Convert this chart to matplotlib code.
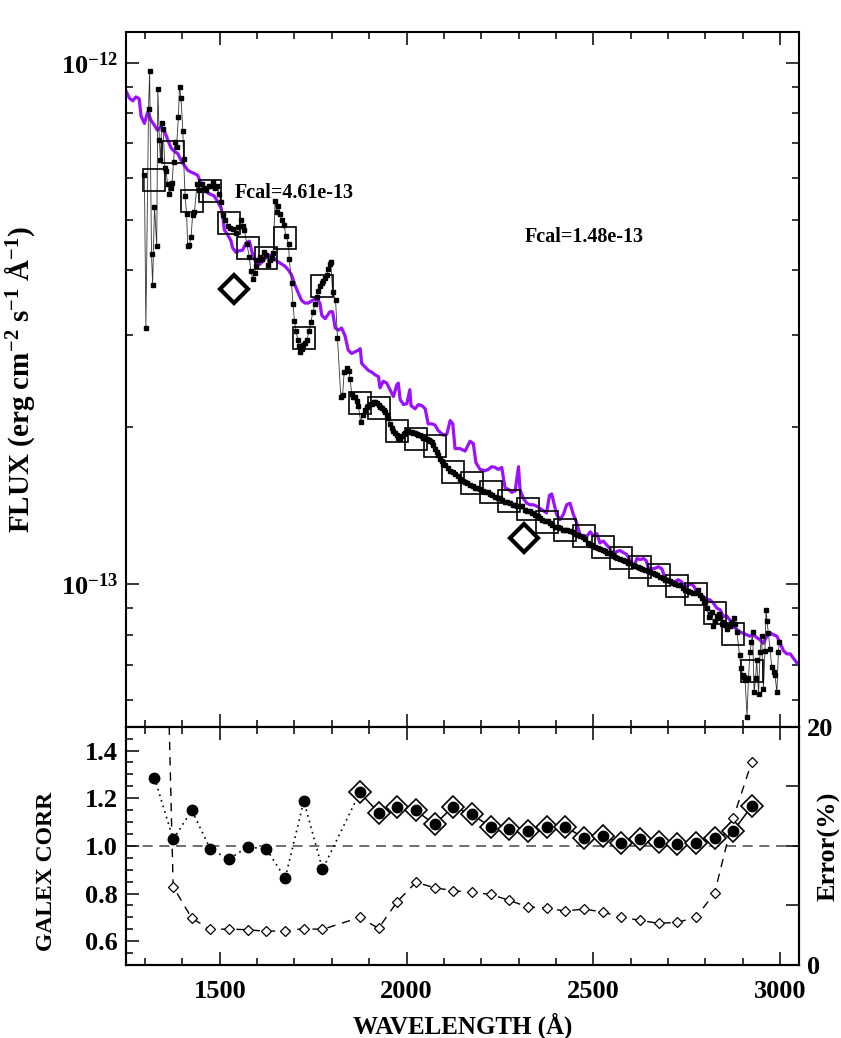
import numpy as np
import matplotlib
matplotlib.use('Agg')
import matplotlib.pyplot as plt
from matplotlib.ticker import MultipleLocator, LogLocator, NullFormatter, FuncFormatter, FixedLocator, FixedFormatter

plt.rcParams['font.family'] = ['Liberation Serif', 'DejaVu Serif']
plt.rcParams['font.weight'] = 'bold'
plt.rcParams['mathtext.fontset'] = 'custom'
plt.rcParams['mathtext.rm'] = 'Liberation Serif:bold'
plt.rcParams['mathtext.bf'] = 'Liberation Serif:bold'
plt.rcParams['mathtext.it'] = 'Liberation Serif:bold:italic'

# observed spectrum (flux in 1e-13 erg/cm2/s/A)
spec_wave = [1298, 1302, 1309, 1312, 1317, 1320, 1325, 1331, 1334, 1338, 1341, 1344, 1348, 1353, 1356,
             1360, 1365, 1368, 1372, 1376, 1380, 1384, 1389, 1392, 1396, 1401, 1403, 1407, 1411, 1414,
             1418, 1423, 1427, 1432, 1439, 1443, 1452, 1458, 1463, 1470, 1476, 1482, 1488, 1493, 1498,
             1503, 1509, 1515, 1522, 1528, 1534, 1543, 1550, 1557, 1561, 1566, 1572, 1579, 1583, 1589,
             1593, 1597, 1603, 1608, 1614, 1619, 1625, 1630, 1635, 1639, 1643, 1648, 1652, 1657, 1661,
             1666, 1672, 1677, 1684, 1686, 1692, 1696, 1700, 1704, 1709, 1712, 1716, 1720, 1724, 1729,
             1733, 1739, 1744, 1749, 1755, 1760, 1764, 1768, 1773, 1777, 1782, 1786, 1791, 1795, 1797,
             1802, 1810, 1815, 1824, 1829, 1833, 1840, 1846, 1849, 1853, 1858, 1862, 1867, 1871, 1877,
             1883, 1889, 1894, 1898, 1903, 1907, 1912, 1916, 1920, 1925, 1930, 1934, 1939, 1943, 1947,
             1951, 1956, 1960, 1965, 1969, 1974, 1978, 1983, 1987, 1992, 1996, 2001, 2005, 2010, 2014,
             2018, 2023, 2028, 2032, 2036, 2041, 2045, 2050, 2054, 2059, 2063, 2068, 2072, 2077, 2081,
             2085, 2090, 2095, 2099, 2103, 2110, 2117, 2124, 2130, 2137, 2143, 2150, 2157, 2163, 2170,
             2177, 2184, 2190, 2197, 2204, 2210, 2217, 2224, 2230, 2237, 2244, 2251, 2257, 2264, 2270,
             2277, 2284, 2291, 2297, 2304, 2310, 2317, 2324, 2331, 2337, 2344, 2351, 2358, 2364, 2371,
             2378, 2385, 2391, 2398, 2405, 2411, 2418, 2425, 2431, 2438, 2445, 2452, 2458, 2465, 2472,
             2478, 2485, 2492, 2498, 2505, 2512, 2518, 2525, 2532, 2538, 2545, 2552, 2559, 2565, 2572,
             2579, 2585, 2592, 2599, 2606, 2612, 2619, 2626, 2632, 2639, 2646, 2652, 2659, 2666, 2672,
             2679, 2686, 2692, 2699, 2706, 2713, 2719, 2726, 2733, 2740, 2746, 2753, 2760, 2767, 2775,
             2782, 2786, 2791, 2796, 2800, 2805, 2809, 2814, 2818, 2822, 2827, 2831, 2836, 2840, 2845,
             2849, 2854, 2858, 2862, 2867, 2871, 2876, 2880, 2885, 2892, 2896, 2900, 2904, 2907, 2912,
             2916, 2920, 2924, 2927, 2931, 2935, 2938, 2943, 2947, 2951, 2956, 2960, 2963, 2966, 2969,
             2974, 2978, 2983, 2987, 2992, 2996, 2999]
spec_flux = [6.08, 3.10, 8.15, 9.63, 4.30, 3.75, 5.30, 4.45, 8.90, 7.10, 6.50, 7.65, 7.45, 6.28, 6.20,
             5.85, 5.60, 5.75, 5.88, 6.45, 7.05, 6.90, 7.86, 9.00, 8.55, 7.40, 6.53, 5.55, 5.12, 4.45,
             4.47, 4.63, 5.10, 5.18, 5.85, 5.70, 5.85, 5.75, 5.70, 5.80, 5.80, 5.90, 5.75, 5.80, 5.60,
             5.40, 5.10, 5.00, 4.87, 4.82, 4.79, 4.72, 4.85, 5.00, 4.87, 4.77, 4.50, 4.25, 3.99, 3.84,
             3.95, 4.07, 4.19, 4.25, 4.20, 4.33, 4.27, 4.10, 4.18, 4.22, 4.32, 5.43, 5.18, 5.31, 5.13,
             4.99, 4.88, 4.66, 4.50, 4.20, 3.78, 3.45, 3.19, 3.06, 2.94, 2.86, 2.79, 2.82, 2.87, 2.90,
             2.94, 3.06, 3.18, 3.32, 3.45, 3.56, 3.65, 3.73, 3.78, 3.81, 3.87, 3.92, 4.02, 4.12, 4.15,
             3.64, 3.51, 2.97, 2.29, 2.31, 2.55, 2.60, 2.56, 2.48, 2.32, 2.29, 2.29, 2.25, 2.20, 2.05,
             2.11, 2.16, 2.19, 2.20, 2.22, 2.22, 2.24, 2.24, 2.23, 2.21, 2.19, 2.18, 2.16, 2.14, 2.11,
             2.08, 2.03, 1.99, 1.97, 1.95, 1.93, 1.91, 1.90, 1.92, 1.94, 1.95, 1.96, 1.97, 1.96, 1.96,
             1.95, 1.95, 1.94, 1.93, 1.93, 1.92, 1.91, 1.91, 1.90, 1.89, 1.88, 1.87, 1.85, 1.82, 1.79,
             1.77, 1.74, 1.72, 1.70, 1.69, 1.67, 1.65, 1.64, 1.63, 1.61, 1.59, 1.58, 1.57, 1.56, 1.55,
             1.54, 1.53, 1.53, 1.52, 1.51, 1.50, 1.50, 1.49, 1.48, 1.47, 1.46, 1.46, 1.45, 1.44, 1.44,
             1.43, 1.42, 1.42, 1.41, 1.41, 1.41, 1.39, 1.38, 1.38, 1.37, 1.36, 1.35, 1.34, 1.33, 1.32,
             1.32, 1.31, 1.30, 1.29, 1.29, 1.28, 1.27, 1.27, 1.27, 1.265, 1.26, 1.25, 1.24, 1.235, 1.23,
             1.22, 1.20, 1.19, 1.19, 1.18, 1.175, 1.17, 1.165, 1.16, 1.15, 1.147, 1.14, 1.13, 1.125, 1.12,
             1.115, 1.11, 1.10, 1.097, 1.09, 1.085, 1.08, 1.073, 1.07, 1.063, 1.06, 1.057, 1.05, 1.045, 1.04,
             1.034, 1.03, 1.02, 1.017, 1.012, 1.005, 1.00, 0.998, 0.997, 0.985, 0.975, 0.97, 0.968, 0.96, 0.962,
             0.975, 0.955, 0.94, 0.93, 0.926, 0.90, 0.867, 0.875, 0.886, 0.83, 0.85, 0.87, 0.875, 0.86, 0.84,
             0.845, 0.835, 0.82, 0.83, 0.83, 0.845, 0.86, 0.84, 0.81, 0.73, 0.69, 0.67, 0.665, 0.655, 0.557,
             0.66, 0.74, 0.775, 0.81, 0.62, 0.66, 0.716, 0.615, 0.74, 0.795, 0.63, 0.745, 0.893, 0.85, 0.806,
             0.75, 0.695, 0.68, 0.67, 0.62, 0.74, 0.774]

# model spectrum (purple)
model_wave = [1250, 1258, 1267, 1275, 1284, 1289, 1298, 1307, 1316, 1324, 1333, 1342, 1351, 1360, 1369,
              1378, 1387, 1396, 1405, 1414, 1423, 1432, 1441, 1450, 1458, 1467, 1476, 1485, 1494, 1503,
              1508, 1512, 1521, 1530, 1534, 1543, 1552, 1561, 1570, 1579, 1588, 1597, 1606, 1615, 1626,
              1639, 1648, 1661, 1675, 1684, 1692, 1701, 1710, 1719, 1728, 1737, 1750, 1760, 1768, 1773,
              1782, 1795, 1802, 1809, 1818, 1826, 1835, 1844, 1853, 1862, 1871, 1876, 1880, 1889, 1898,
              1907, 1916, 1925, 1929, 1938, 1947, 1956, 1965, 1974, 1978, 1983, 1992, 2001, 2009, 2012,
              2023, 2032, 2041, 2050, 2058, 2068, 2076, 2085, 2099, 2108, 2117, 2124, 2130, 2143, 2157,
              2170, 2179, 2186, 2197, 2210, 2219, 2228, 2237, 2246, 2255, 2264, 2273, 2282, 2291, 2300,
              2304, 2313, 2322, 2331, 2340, 2350, 2362, 2375, 2383, 2389, 2396, 2402, 2411, 2420, 2429,
              2438, 2447, 2456, 2465, 2474, 2483, 2492, 2500, 2510, 2518, 2527, 2536, 2545, 2554, 2563,
              2572, 2581, 2590, 2599, 2608, 2617, 2626, 2635, 2642, 2648, 2657, 2666, 2675, 2684, 2693,
              2702, 2711, 2720, 2728, 2737, 2746, 2755, 2764, 2770, 2777, 2786, 2795, 2804, 2813, 2822,
              2831, 2840, 2849, 2857, 2866, 2875, 2884, 2893, 2902, 2911, 2920, 2929, 2938, 2947, 2956,
              2965, 2974, 2983, 2992, 3001, 3010, 3019, 3028, 3037, 3046, 3055]
model_flux = [8.79, 8.55, 8.45, 8.60, 8.53, 7.90, 7.65, 8.05, 7.75, 7.60, 7.42, 7.53, 7.42, 7.13, 6.87,
              6.76, 6.70, 6.50, 6.36, 6.22, 6.17, 6.13, 6.08, 5.85, 5.76, 5.63, 5.59, 5.55, 5.42, 5.27,
              5.07, 4.78, 4.68, 4.55, 4.42, 4.33, 4.36, 4.37, 4.51, 4.55, 4.28, 4.13, 4.10, 4.16, 4.25,
              4.28, 4.19, 4.13, 4.07, 4.00, 3.92, 3.75, 3.62, 3.50, 3.46, 3.46, 3.51, 3.53, 3.46, 3.28,
              3.23, 3.33, 3.33, 3.10, 3.07, 3.10, 3.00, 2.81, 2.77, 2.79, 2.81, 2.83, 2.65, 2.61, 2.57,
              2.55, 2.52, 2.50, 2.38, 2.45, 2.43, 2.36, 2.29, 2.41, 2.43, 2.26, 2.21, 2.22, 2.36, 2.20,
              2.17, 2.21, 2.20, 2.17, 2.03, 2.03, 2.02, 1.97, 1.93, 1.94, 2.06, 2.03, 1.82, 1.82, 1.80,
              1.88, 1.86, 1.71, 1.66, 1.65, 1.66, 1.68, 1.675, 1.66, 1.675, 1.53, 1.52, 1.50, 1.51, 1.68,
              1.52, 1.46, 1.43, 1.42, 1.42, 1.41, 1.39, 1.37, 1.48, 1.49, 1.42, 1.36, 1.33, 1.36, 1.42,
              1.43, 1.36, 1.31, 1.24, 1.24, 1.235, 1.26, 1.24, 1.25, 1.20, 1.21, 1.19, 1.17, 1.13, 1.155,
              1.16, 1.15, 1.14, 1.11, 1.073, 1.12, 1.115, 1.12, 1.11, 1.073, 1.07, 1.073, 1.08, 1.07, 1.027,
              1.02, 1.012, 1.012, 1.02, 1.01, 0.99, 0.997, 1.00, 0.99, 0.968, 0.955, 0.947, 0.935, 0.933, 0.92,
              0.90, 0.893, 0.867, 0.87, 0.854, 0.83, 0.82, 0.81, 0.805, 0.80, 0.795, 0.80, 0.79, 0.782, 0.77,
              0.795, 0.806, 0.80, 0.795, 0.77, 0.745, 0.735, 0.735, 0.72, 0.706, 0.70]

# 50 A bins
bin_wave = [1325, 1375, 1425, 1475, 1525, 1575, 1625, 1675, 1725, 1775, 1875, 1925, 1975, 2025, 2075, 2125,
            2175, 2225, 2275, 2325, 2375, 2425, 2475, 2525, 2575, 2625, 2675, 2725, 2775, 2825, 2875, 2925]
bin_flux = [5.96, 6.75, 5.43, 5.67, 4.93, 4.41, 4.22, 4.62, 2.97, 3.73, 2.23, 2.175, 1.97, 1.90, 1.84, 1.64,
            1.56, 1.505, 1.447, 1.394, 1.318, 1.273, 1.236, 1.177, 1.123, 1.078, 1.041, 0.991, 0.959, 0.882, 0.802, 0.681]
corr = [1.286, 1.028, 1.149, 0.985, 0.945, 0.996, 0.986, 0.864, 1.188, 0.901, 1.224, 1.140, 1.163, 1.149, 1.090, 1.164,
        1.132, 1.080, 1.069, 1.063, 1.080, 1.080, 1.034, 1.042, 1.013, 1.029, 1.016, 1.008, 1.010, 1.032, 1.062, 1.167]
err = [70.0, 6.57, 3.92, 2.99, 3.02, 2.96, 2.83, 2.88, 3.05, 2.99, 4.00, 3.08, 5.31, 6.94, 6.49, 6.24,
       6.10, 5.93, 5.43, 4.87, 4.78, 4.53, 4.70, 4.45, 4.03, 3.75, 3.50, 3.58, 4.00, 6.02, 12.31, 17.06]

# GALEX photometry
galex_wave = [1539, 2316]
galex_flux = [3.69, 1.227]
fcal_text = ['Fcal=4.61e-13', 'Fcal=1.48e-13']
fcal_y = [5.62, 4.63]

E13 = 1e-13
fig = plt.figure(figsize=(8.41, 10.38), dpi=100)
ax1 = fig.add_axes([0.1504, 0.2999, 0.7991, 0.6696])
ax2 = fig.add_axes([0.1504, 0.0703, 0.7991, 0.2296])

ax1.plot(model_wave, np.array(model_flux) * E13, color='#9a10ff', lw=2.3, zorder=2)
ax1.plot(spec_wave, np.array(spec_flux) * E13, '-', color='#333333', lw=0.6, zorder=3)
ax1.plot(spec_wave, np.array(spec_flux) * E13, 's', color='k', ms=3.3, zorder=4)
ax1.plot(bin_wave, np.array(bin_flux) * E13, 's', ms=16.5, mfc='none', mec='k', mew=1.2, zorder=5)
ax1.plot(galex_wave, np.array(galex_flux) * E13, 'D', ms=14, mfc='none', mec='k', mew=3, zorder=5)
for x, y, t in zip(galex_wave, fcal_y, fcal_text):
    ax1.text(x, y * E13, t, fontsize=14.5, fontweight='bold', ha='left', va='center')

ax1.set_yscale('log')
ax1.set_xlim(1250, 3050)
ax1.set_ylim(5.33e-14, 1.147e-12)
ax1.xaxis.set_major_locator(MultipleLocator(500))
ax1.xaxis.set_minor_locator(MultipleLocator(100))
ax1.yaxis.set_major_locator(FixedLocator([1e-13, 1e-12]))
ax1.yaxis.set_minor_locator(LogLocator(base=10, subs=range(2, 10)))
ax1.yaxis.set_minor_formatter(NullFormatter())
ax1.yaxis.set_major_formatter(FuncFormatter(lambda v, p: r'$\mathbf{10^{%d}}$' % round(np.log10(v))))
ax1.tick_params(which='both', direction='in', top=True, right=True, labelbottom=False, width=1.1)
ax1.tick_params(which='major', length=9.5, labelsize=19, pad=6)
ax1.tick_params(which='minor', length=5)
ax1.set_ylabel('FLUX (erg cm$^{-2}$ s$^{-1}$ Å$^{-1}$)', fontsize=21, fontweight='bold')
ax1.yaxis.set_label_coords(-0.133, 0.5)

# bottom panel
ax2.axhline(1.0, ls='--', color='#555555', lw=1.2, dashes=(6, 4), zorder=1)
ax2.plot(bin_wave[:11], corr[:11], color='k', lw=1.2, ls=(0, (1, 2.5)), zorder=2)
ax2.plot(bin_wave[10:], corr[10:], color='k', lw=1.1, zorder=2)
ax2.plot(bin_wave[10:], corr[10:], 'D', ms=11, mfc='white', mec='k', mew=1.2, zorder=3)
ax2.plot(bin_wave, corr, 'o', color='k', ms=7.5, zorder=4)
ax2.set_xlim(1250, 3050)
ax2.set_ylim(0.5, 1.5)
ax2.xaxis.set_major_locator(FixedLocator([1500, 2000, 2500, 3000]))
ax2.xaxis.set_minor_locator(MultipleLocator(100))
ax2.yaxis.set_major_locator(FixedLocator([0.6, 0.8, 1.0, 1.2, 1.4]))
ax2.yaxis.set_minor_locator(MultipleLocator(0.05))
ax2.yaxis.set_major_formatter(FuncFormatter(lambda v, p: '%.1f' % v))
ax2.tick_params(which='both', direction='in', top=True, right=False, width=1.1)
ax2.tick_params(which='major', length=9.5, labelsize=19)
ax2.tick_params(axis='x', which='major', pad=11)
ax2.tick_params(axis='y', which='major', pad=6)
ax2.tick_params(which='minor', length=5)
ax2.set_xlabel('WAVELENGTH (Å)', fontsize=18, fontweight='bold')
ax2.xaxis.set_label_coords(0.5, -0.2)
ax2.set_ylabel('GALEX CORR', fontsize=17, fontweight='bold')
ax2.yaxis.set_label_coords(-0.103, 0.394)

ax3 = ax2.twinx()
ax3.plot(bin_wave, err, color='k', lw=1.0, ls='--', dashes=(6, 5), marker='D', ms=4.8,
         mfc='white', mec='k', mew=0.9)
ax3.set_ylim(0, 20)
ax3.yaxis.set_major_locator(FixedLocator([0, 5, 10, 15, 20]))
ax3.yaxis.set_major_formatter(FixedFormatter(['0', '', '', '', '20']))
ax3.tick_params(direction='in', length=9.5, width=1.1, labelsize=19, pad=6)
ax3.set_ylabel('Error(%)', fontsize=19, fontweight='bold')
ax3.yaxis.set_label_coords(1.0275, 0.5)
ax3.set_xlim(1250, 3050)

for ax in (ax1, ax2, ax3):
    for s in ax.spines.values():
        s.set_linewidth(1.5)

fig.savefig('out.png', dpi=100)
